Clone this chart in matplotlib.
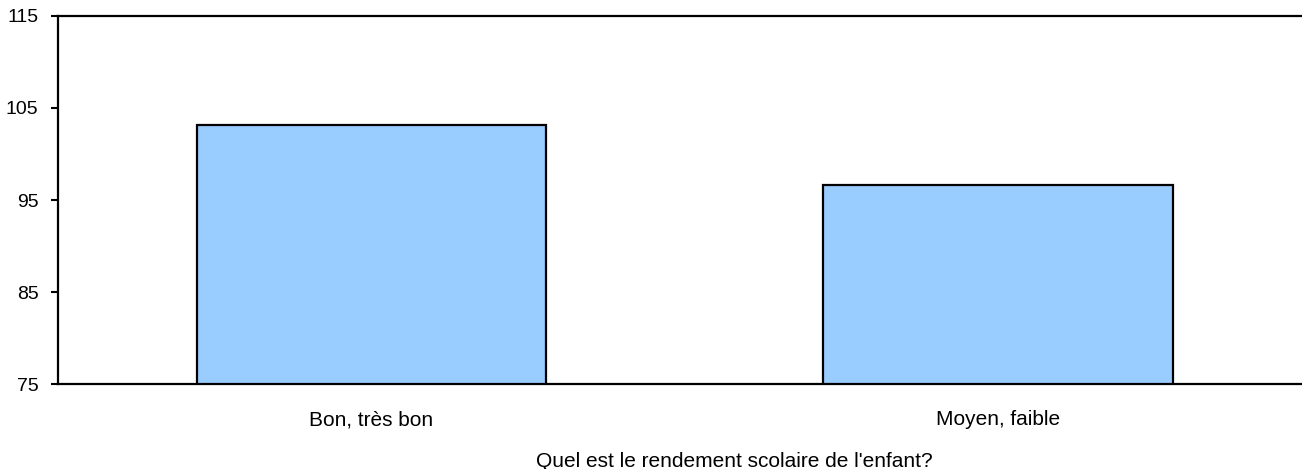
import numpy as np
import matplotlib.pyplot as plt

plt.rcParams['font.family'] = ['Liberation Sans', 'DejaVu Sans']

categories = ['Bon, très bon', 'Moyen, faible']
values = [103.15, 96.6]
yticks = [75, 85, 95, 105, 115]

fig = plt.figure(figsize=(13.02, 4.69), dpi=100)
ax = fig.add_axes([0.0445, 0.1812, 0.9555, 0.7847])

x = np.arange(len(categories))
ax.bar(x, values, width=0.557, bottom=0, color='#99CCFF', edgecolor='black', linewidth=1.6)

ax.set_ylim(75, 115)
ax.set_xlim(-0.5, 1.485)
ax.set_yticks(yticks)
ax.set_yticklabels([str(t) for t in yticks])
ax.set_xticks(x)
ax.set_xticklabels(categories)

ax.tick_params(axis='y', direction='out', length=5, width=1.5, pad=9, labelsize=14)
ax.tick_params(axis='x', length=0, pad=19, labelsize=15)

for s in ['left', 'top', 'bottom']:
    ax.spines[s].set_linewidth(1.6)
ax.spines['right'].set_visible(False)

ax.set_xlabel("Quel est le rendement scolaire de l'enfant?", fontsize=15, labelpad=16)
ax.xaxis.set_label_coords(0.544, -0.185)

fig.savefig('out.png', dpi=100)
